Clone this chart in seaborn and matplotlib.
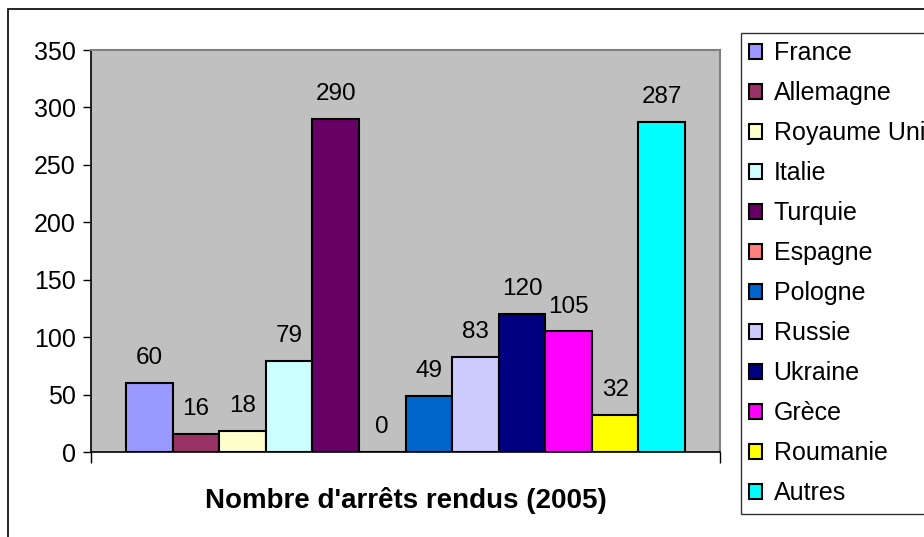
import matplotlib
matplotlib.use("Agg")
import matplotlib.pyplot as plt
import seaborn as sns
import pandas as pd
from matplotlib.patches import Rectangle

# Données
pays = ["France", "Allemagne", "Royaume Uni", "Italie", "Turquie", "Espagne",
        "Pologne", "Russie", "Ukraine", "Grèce", "Roumanie", "Autres"]
arrets = [60, 16, 18, 79, 290, 0, 49, 83, 120, 105, 32, 287]
couleurs = ["#9999FF", "#993366", "#FFFFCC", "#CCFFFF", "#660066", "#FF8080",
            "#0066CC", "#CCCCFF", "#000080", "#FF00FF", "#FFFF00", "#00FFFF"]
titre = "Nombre d'arrêts rendus (2005)"

df = pd.DataFrame({"Pays": pays, "Arrets": arrets})

sns.set_style("white")
plt.rcParams["font.family"] = ["Liberation Sans", "DejaVu Sans"]
plt.rcParams["text.color"] = "black"
plt.rcParams["axes.labelcolor"] = "black"
plt.rcParams["ytick.color"] = "black"
plt.rcParams["xtick.color"] = "black"

fig = plt.figure(figsize=(9.24, 5.37), dpi=100)
ax = fig.add_axes([91 / 924, 1 - 452 / 537, (720 - 91) / 924, (452 - 50) / 537])

sns.barplot(data=df, x="Pays", y="Arrets", hue="Pays", palette=couleurs,
            width=1.0, edgecolor="black", linewidth=1.5, legend=True, ax=ax,
            saturation=1)

# Etiquettes de valeurs
for cont in ax.containers:
    ax.bar_label(cont, padding=10, fontsize=17.5, color="black")

ax.set_facecolor("#C0C0C0")
ax.set_ylim(0, 350)
ax.set_xlim(-1.25, 12.25)
ax.set_yticks(range(0, 351, 50))
ax.set_xticks([-1.25, 12.25])
ax.set_xticklabels([])
ax.tick_params(axis="y", direction="out", length=6, width=1, labelsize=18, pad=5, left=True)
ax.tick_params(axis="x", direction="out", length=8, width=1, bottom=True)
ax.set_ylabel("")
ax.set_xlabel(titre, fontsize=20, fontweight="bold", labelpad=14)

for side in ["left", "bottom"]:
    ax.spines[side].set_color("black")
    ax.spines[side].set_linewidth(1.2)
for side in ["top", "right"]:
    ax.spines[side].set_color("#808080")
    ax.spines[side].set_linewidth(1.5)

# Légende
handles, labels = ax.get_legend_handles_labels()
leg = ax.legend(handles, labels, loc="upper left",
                bbox_to_anchor=(741 / 924, 1 - 33 / 537), bbox_transform=fig.transFigure,
                fontsize=18, frameon=True, fancybox=False, borderaxespad=0,
                handlelength=0.52, handleheight=0.52, handletextpad=0.45,
                labelspacing=0.64, borderpad=0.33)
leg.get_frame().set_edgecolor("black")
leg.get_frame().set_linewidth(1.0)
for h in leg.legend_handles:
    h.set_edgecolor("black")
    h.set_linewidth(1.5)

# Cadre du graphique
fig.patches.append(Rectangle((8 / 924, -0.1), 1.2, 1 - 9 / 537 + 0.1,
                             transform=fig.transFigure, fill=False,
                             edgecolor="black", linewidth=1.2))

fig.savefig("out.png", dpi=100)
